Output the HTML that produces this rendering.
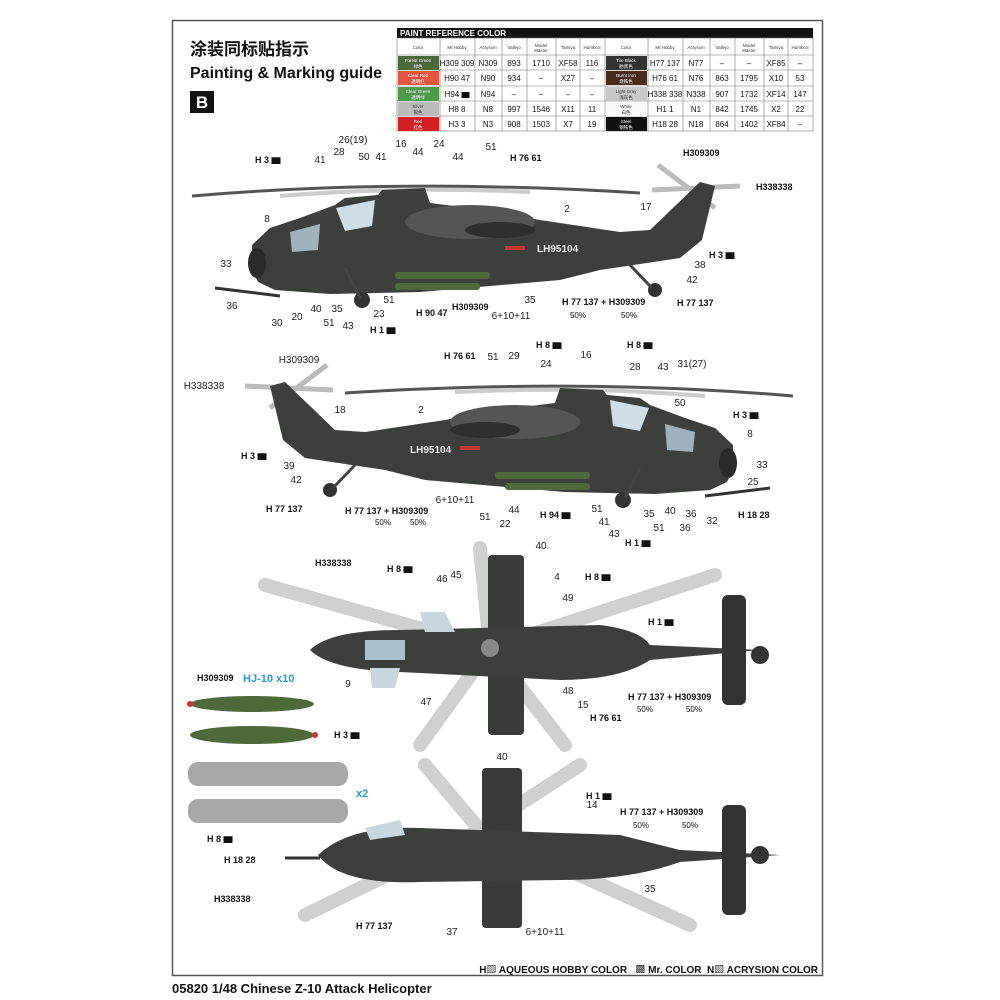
<!DOCTYPE html>
<html><head><meta charset="utf-8"><style>
body{margin:0;background:#fff}
svg{display:block;font-family:"Liberation Sans","Noto Sans CJK SC",sans-serif}
.l{font-size:10px;fill:#222;text-anchor:middle}
.h{font-size:9px;font-weight:bold;fill:#111}
.t{font-size:8px;fill:#111;text-anchor:middle}
.s{font-size:4.5px;fill:#333;text-anchor:middle}
</style></head><body>
<svg width="1000" height="1000" viewBox="0 0 1000 1000">
<rect x="172.5" y="20.5" width="650" height="955" fill="#fff" stroke="#555" stroke-width="1.5"/>
<text x="190" y="55" font-size="17" font-weight="bold" fill="#111">涂装同标贴指示</text>
<text x="190" y="78" font-size="16" font-weight="bold" fill="#111">Painting &amp; Marking guide</text>
<rect x="190" y="91" width="24" height="22" fill="#111"/>
<text x="202" y="108" font-size="17" font-weight="bold" fill="#fff" text-anchor="middle">B</text>

<!-- table -->
<rect x="397" y="28" width="416" height="10" fill="#111"/>
<text x="400" y="36" font-size="8" font-weight="bold" fill="#fff">PAINT  REFERENCE COLOR</text>
<g stroke="#777" stroke-width="0.6" fill="none">
<rect x="397" y="38" width="416" height="93"/>
<line x1="397" y1="55" x2="813" y2="55"/><line x1="397" y1="70" x2="813" y2="70"/><line x1="397" y1="86" x2="813" y2="86"/><line x1="397" y1="101" x2="813" y2="101"/><line x1="397" y1="116" x2="813" y2="116"/>
<line x1="440" y1="38" x2="440" y2="131"/><line x1="475" y1="38" x2="475" y2="131"/><line x1="502" y1="38" x2="502" y2="131"/><line x1="527" y1="38" x2="527" y2="131"/><line x1="556" y1="38" x2="556" y2="131"/><line x1="580" y1="38" x2="580" y2="131"/><line x1="605" y1="38" x2="605" y2="131"/>
<line x1="648" y1="38" x2="648" y2="131"/><line x1="683" y1="38" x2="683" y2="131"/><line x1="710" y1="38" x2="710" y2="131"/><line x1="735" y1="38" x2="735" y2="131"/><line x1="764" y1="38" x2="764" y2="131"/><line x1="788" y1="38" x2="788" y2="131"/>
</g>
<rect x="398" y="56" width="41" height="14" fill="#4a6a3c"/><rect x="398" y="71" width="41" height="14" fill="#e0573f"/><rect x="398" y="87" width="41" height="14" fill="#4d9a4a"/><rect x="398" y="102" width="41" height="14" fill="#bbb"/><rect x="398" y="117" width="41" height="14" fill="#d42020"/>
<rect x="606" y="56" width="41" height="14" fill="#333"/><rect x="606" y="71" width="41" height="14" fill="#4a2a1c"/><rect x="606" y="87" width="41" height="14" fill="#c8c8c8"/><rect x="606" y="102" width="41" height="14" fill="#fafafa"/><rect x="606" y="117" width="41" height="14" fill="#111"/>
<g class="s"><text x="418" y="49">Color</text><text x="457" y="49">Mr.Hobby</text><text x="488" y="49">Acrysion</text><text x="514" y="49">Vallejo</text><text x="541" y="47">Model</text><text x="541" y="52">Master</text><text x="568" y="49">Tamiya</text><text x="592" y="49">Humbrol</text>
<text x="626" y="49">Color</text><text x="665" y="49">Mr.Hobby</text><text x="696" y="49">Acrysion</text><text x="722" y="49">Vallejo</text><text x="749" y="47">Model</text><text x="749" y="52">Master</text><text x="776" y="49">Tamiya</text><text x="800" y="49">Humbrol</text></g>
<g class="s" style="fill:#fff"><text x="418" y="62">Forest Green</text><text x="418" y="68">绿色</text><text x="418" y="77">Clear Red</text><text x="418" y="83">透明红</text><text x="418" y="93">Clear Green</text><text x="418" y="99">透明绿</text><text x="418" y="123">Red</text><text x="418" y="129">红色</text>
<text x="626" y="62">Tire Black</text><text x="626" y="68">胎黑色</text><text x="626" y="77">Burnt Iron</text><text x="626" y="83">烧铁色</text><text x="626" y="123">Steel</text><text x="626" y="129">钢铁色</text></g>
<g class="s"><text x="418" y="108">Silver</text><text x="418" y="114">银色</text><text x="626" y="93">Light Gray</text><text x="626" y="99">浅灰色</text><text x="626" y="108">White</text><text x="626" y="114">白色</text></g>
<g class="t">
<text x="457" y="66">H309 309</text><text x="488" y="66">N309</text><text x="514" y="66">893</text><text x="541" y="66">1710</text><text x="568" y="66">XF58</text><text x="592" y="66">116</text>
<text x="457" y="81">H90 47</text><text x="488" y="81">N90</text><text x="514" y="81">934</text><text x="541" y="81">–</text><text x="568" y="81">X27</text><text x="592" y="81">–</text>
<text x="457" y="97">H94 ▆</text><text x="488" y="97">N94</text><text x="514" y="97">–</text><text x="541" y="97">–</text><text x="568" y="97">–</text><text x="592" y="97">–</text>
<text x="457" y="112">H8 8</text><text x="488" y="112">N8</text><text x="514" y="112">997</text><text x="541" y="112">1546</text><text x="568" y="112">X11</text><text x="592" y="112">11</text>
<text x="457" y="127">H3 3</text><text x="488" y="127">N3</text><text x="514" y="127">908</text><text x="541" y="127">1503</text><text x="568" y="127">X7</text><text x="592" y="127">19</text>
<text x="665" y="66">H77 137</text><text x="696" y="66">N77</text><text x="722" y="66">–</text><text x="749" y="66">–</text><text x="776" y="66">XF85</text><text x="800" y="66">–</text>
<text x="665" y="81">H76 61</text><text x="696" y="81">N76</text><text x="722" y="81">863</text><text x="749" y="81">1795</text><text x="776" y="81">X10</text><text x="800" y="81">53</text>
<text x="665" y="97">H338 338</text><text x="696" y="97">N338</text><text x="722" y="97">907</text><text x="749" y="97">1732</text><text x="776" y="97">XF14</text><text x="800" y="97">147</text>
<text x="665" y="112">H1 1</text><text x="696" y="112">N1</text><text x="722" y="112">842</text><text x="749" y="112">1745</text><text x="776" y="112">X2</text><text x="800" y="112">22</text>
<text x="665" y="127">H18 28</text><text x="696" y="127">N18</text><text x="722" y="127">864</text><text x="749" y="127">1402</text><text x="776" y="127">XF84</text><text x="800" y="127">–</text>
</g>

<!-- helicopter side view 1 -->
<g id="heli">
<path d="M192 196 Q400 178 640 193" stroke="#555" stroke-width="3" fill="none"/>
<path d="M280 196 Q400 186 530 192" stroke="#ccc" stroke-width="4" fill="none"/>
<g stroke="#bbb" stroke-width="5"><line x1="658" y1="165" x2="715" y2="208"/><line x1="652" y1="190" x2="740" y2="186"/></g>
<polygon points="252,245 270,228 300,218 335,205 345,198 378,195 382,190 425,188 430,203 470,208 540,220 620,232 650,230 700,182 715,186 702,240 680,258 600,270 560,280 420,292 330,294 275,290 258,282 252,270" fill="#3c3f3c"/>
<ellipse cx="470" cy="222" rx="65" ry="17" fill="#555"/>
<ellipse cx="500" cy="230" rx="35" ry="8" fill="#2e302e"/>
<polygon points="336,208 375,200 372,226 345,231" fill="#cfdde6"/>
<polygon points="290,232 320,224 318,250 292,252" fill="#9fb2be"/>
<ellipse cx="257" cy="263" rx="9" ry="15" fill="#2a2a2a"/>
<line x1="215" y1="288" x2="280" y2="296" stroke="#333" stroke-width="3"/>
<rect x="395" y="272" width="95" height="7" rx="3" fill="#4e6a3a"/>
<rect x="395" y="283" width="85" height="7" rx="3" fill="#4e6a3a"/>
<circle cx="362" cy="300" r="8" fill="#333"/><circle cx="655" cy="290" r="7" fill="#333"/>
<line x1="345" y1="268" x2="360" y2="298" stroke="#444" stroke-width="3"/>
<line x1="630" y1="265" x2="652" y2="288" stroke="#444" stroke-width="3"/>
<rect x="505" y="246" width="20" height="4" fill="#c33"/>
</g>
<text x="537" y="252" font-size="10" font-weight="bold" fill="#eee">LH95104</text>
<use href="#heli" transform="matrix(-1,0,0,1,985,200)"/>
<text x="410" y="453" font-size="10" font-weight="bold" fill="#eee">LH95104</text>

<!-- labels view 1 -->
<g class="l">
<text x="353" y="143">26(19)</text><text x="320" y="163">41</text><text x="339" y="155">28</text><text x="364" y="160">50</text><text x="381" y="160">41</text><text x="401" y="147">16</text><text x="418" y="155">44</text><text x="439" y="147">24</text><text x="458" y="160">44</text><text x="491" y="150">51</text><text x="567" y="212">2</text><text x="646" y="210">17</text>
<text x="267" y="222">8</text><text x="226" y="267">33</text><text x="232" y="309">36</text><text x="277" y="326">30</text><text x="297" y="320">20</text><text x="316" y="312">40</text><text x="329" y="326">51</text><text x="337" y="312">35</text><text x="348" y="329">43</text><text x="379" y="317">23</text><text x="389" y="303">51</text><text x="530" y="303">35</text><text x="511" y="319">6+10+11</text><text x="700" y="268">38</text><text x="692" y="283">42</text>
<text x="299" y="363">H309309</text><text x="204" y="389">H338338</text><text x="340" y="413">18</text><text x="421" y="413">2</text><text x="514" y="359">29</text><text x="493" y="360">51</text><text x="546" y="367">24</text><text x="586" y="358">16</text><text x="635" y="370">28</text><text x="663" y="370">43</text><text x="692" y="367">31(27)</text><text x="680" y="406">50</text><text x="750" y="437">8</text><text x="762" y="468">33</text><text x="289" y="469">39</text><text x="296" y="483">42</text><text x="455" y="503">6+10+11</text><text x="485" y="520">51</text><text x="505" y="527">22</text><text x="514" y="513">44</text><text x="597" y="512">51</text><text x="604" y="525">41</text><text x="614" y="537">43</text><text x="649" y="517">35</text><text x="659" y="531">51</text><text x="670" y="514">40</text><text x="691" y="517">36</text><text x="685" y="531">36</text><text x="712" y="524">32</text><text x="753" y="485">25</text>
<text x="541" y="549">40</text><text x="442" y="582">46</text><text x="456" y="578">45</text><text x="557" y="580">4</text><text x="568" y="601">49</text><text x="348" y="687">9</text><text x="426" y="705">47</text><text x="568" y="694">48</text><text x="583" y="708">15</text><text x="502" y="760">40</text>
<text x="592" y="808">14</text><text x="650" y="892">35</text><text x="545" y="935">6+10+11</text><text x="452" y="935">37</text>
</g>
<g class="h">
<text x="255" y="163">H 3 ▆</text><text x="510" y="161">H 76 61</text><text x="683" y="156">H309309</text><text x="756" y="190">H338338</text><text x="709" y="258">H 3 ▆</text><text x="677" y="306">H 77 137</text>
<text x="370" y="333">H 1 ▆</text><text x="416" y="316">H 90 47</text><text x="452" y="310">H309309</text><text x="562" y="305">H 77 137 + H309309</text>
<text x="444" y="359">H 76 61</text><text x="536" y="348">H 8 ▆</text><text x="627" y="348">H 8 ▆</text><text x="733" y="418">H 3 ▆</text><text x="241" y="459">H 3 ▆</text><text x="266" y="512">H 77 137</text><text x="345" y="514">H 77 137 + H309309</text><text x="540" y="518">H 94 ▆</text><text x="625" y="546">H 1 ▆</text><text x="738" y="518">H 18 28</text>
<text x="315" y="566">H338338</text><text x="387" y="572">H 8 ▆</text><text x="585" y="580">H 8 ▆</text><text x="648" y="625">H 1 ▆</text><text x="628" y="700">H 77 137 + H309309</text><text x="590" y="721">H 76 61</text>
<text x="197" y="681">H309309</text><text x="334" y="738">H 3 ▆</text><text x="207" y="842">H 8 ▆</text><text x="224" y="863">H 18 28</text><text x="214" y="902">H338338</text><text x="356" y="929">H 77 137</text><text x="586" y="799">H 1 ▆</text><text x="620" y="815">H 77 137 + H309309</text>
</g>
<g class="t"><text x="383" y="525">50%</text><text x="418" y="525">50%</text><text x="578" y="318">50%</text><text x="629" y="318">50%</text><text x="645" y="712">50%</text><text x="694" y="712">50%</text><text x="641" y="828">50%</text><text x="690" y="828">50%</text></g>
<text x="243" y="682" font-size="11" font-weight="bold" fill="#2a9ad4">HJ-10 x10</text>
<text x="356" y="797" font-size="11" font-weight="bold" fill="#2a9ad4">x2</text>

<!-- top view -->
<g stroke="#d0d0d0" stroke-width="14" stroke-linecap="round"><line x1="490" y1="648" x2="265" y2="585"/><line x1="490" y1="648" x2="715" y2="575"/><line x1="490" y1="648" x2="565" y2="745"/><line x1="490" y1="648" x2="420" y2="745"/><line x1="490" y1="648" x2="480" y2="548"/></g>
<rect x="488" y="555" width="36" height="180" rx="4" fill="#3a3c3a"/>
<path d="M310 650 Q330 630 400 630 L600 625 Q640 630 650 645 L760 650 L650 660 Q620 680 560 680 L400 672 Q330 670 310 650Z" fill="#3c3f3c"/>
<rect x="722" y="595" width="24" height="110" rx="6" fill="#333"/>
<polygon points="365,640 405,640 405,660 365,660" fill="#aac0cc"/><polygon points="420,612 445,612 455,632 425,632" fill="#c8d6df"/><polygon points="370,668 400,668 395,688 372,688" fill="#c8d6df"/>
<circle cx="490" cy="648" r="9" fill="#888"/>
<circle cx="760" cy="655" r="9" fill="#333"/>
<!-- missiles & pods -->
<g fill="#4e6a3a"><ellipse cx="252" cy="704" rx="62" ry="8"/><ellipse cx="252" cy="735" rx="62" ry="9"/></g>
<circle cx="190" cy="704" r="3" fill="#c33"/><circle cx="315" cy="735" r="3" fill="#c33"/>
<g fill="#a8a8a8"><rect x="188" y="762" width="160" height="24" rx="10"/><rect x="188" y="799" width="160" height="24" rx="10"/></g>
<!-- bottom view -->
<g stroke="#d0d0d0" stroke-width="14" stroke-linecap="round"><line x1="480" y1="830" x2="425" y2="765"/><line x1="480" y1="830" x2="580" y2="765"/><line x1="480" y1="830" x2="690" y2="925"/><line x1="480" y1="830" x2="305" y2="915"/></g>
<rect x="482" y="768" width="40" height="160" rx="4" fill="#3a3c3a"/>
<path d="M318 855 Q350 825 420 828 L620 835 Q660 845 680 850 L780 855 L680 862 Q630 880 560 880 L420 882 Q340 885 318 855Z" fill="#3c3f3c"/>
<rect x="722" y="805" width="24" height="110" rx="6" fill="#333"/>
<polygon points="365,828 400,820 405,835 370,840" fill="#c8d6df"/>
<circle cx="760" cy="855" r="9" fill="#333"/>
<line x1="285" y1="858" x2="320" y2="858" stroke="#333" stroke-width="3"/>

<text x="818" y="973" font-size="10" font-weight="bold" fill="#111" text-anchor="end">H▨ AQUEOUS HOBBY COLOR &#160;&#160;▩ Mr. COLOR &#160;N▨ ACRYSION COLOR</text>
<text x="172" y="993" font-size="13" font-weight="bold" fill="#111">05820 1/48  Chinese Z-10 Attack Helicopter</text>
</svg>
</body></html>
